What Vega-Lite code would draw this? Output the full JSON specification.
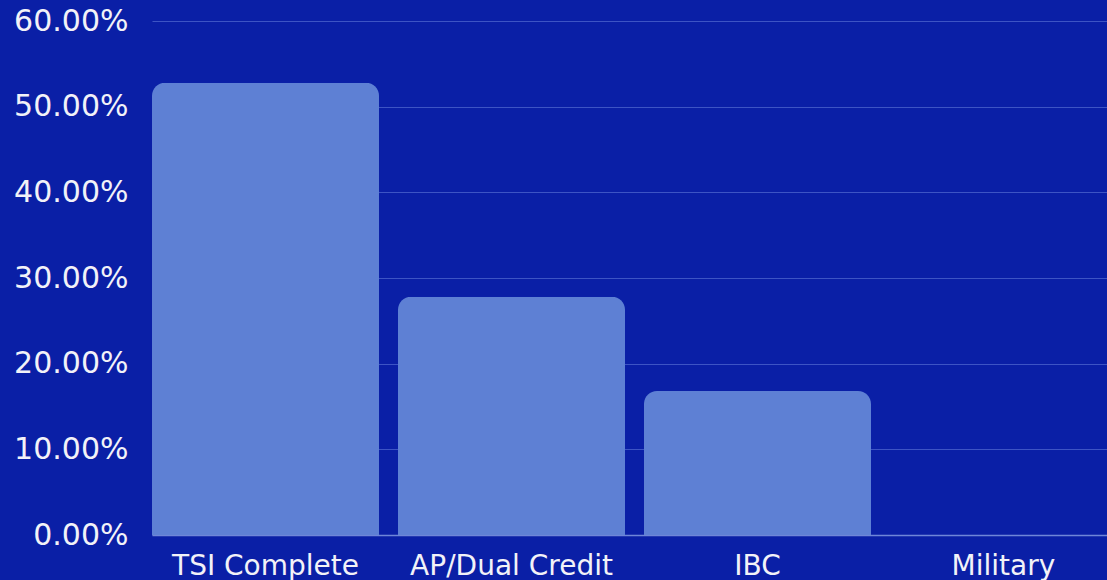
{
  "$schema": "https://vega.github.io/schema/vega-lite/v6.json",
  "width": 965,
  "height": 514,
  "autosize": {"type": "none"},
  "padding": {"left": 152, "top": 21, "right": -10, "bottom": 45},
  "background": "#0a1fa6",
  "config": {
    "view": {"stroke": null},
    "font": "DejaVu Sans"
  },
  "data": {
    "values": [
      {"category": "TSI Complete", "pct": 0.528},
      {"category": "AP/Dual Credit", "pct": 0.278},
      {"category": "IBC", "pct": 0.168},
      {"category": "Military", "pct": 0}
    ]
  },
  "mark": {
    "type": "bar",
    "color": "#5e80d4",
    "cornerRadiusTopLeft": 13,
    "cornerRadiusTopRight": 13
  },
  "encoding": {
    "x": {
      "field": "category",
      "type": "nominal",
      "sort": null,
      "scale": {"paddingInner": 0.077, "paddingOuter": 0},
      "axis": {
        "title": null,
        "labelAngle": 0,
        "labelFontSize": 28,
        "labelLimit": 0,
        "labelColor": "#f2f2f8",
        "labelPadding": 17,
        "ticks": false,
        "domain": true,
        "domainColor": "#6f86d8",
        "domainWidth": 1.5,
        "grid": false
      }
    },
    "y": {
      "field": "pct",
      "type": "quantitative",
      "scale": {"domain": [0, 0.6], "nice": false},
      "axis": {
        "title": null,
        "format": ".2%",
        "values": [0, 0.1, 0.2, 0.3, 0.4, 0.5, 0.6],
        "labelFontSize": 30,
        "labelLimit": 0,
        "labelColor": "#f2f2f8",
        "labelPadding": 24,
        "ticks": false,
        "domain": false,
        "grid": true,
        "gridColor": "#4a62cc",
        "gridWidth": 1,
        "gridOpacity": 0.8
      }
    }
  }
}
